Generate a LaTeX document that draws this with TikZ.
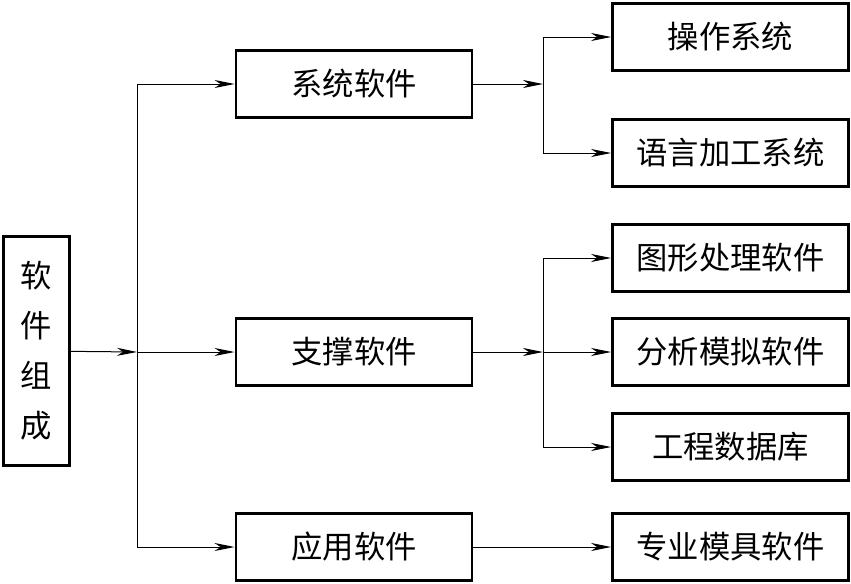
\documentclass[tikz,border=0pt]{standalone}
\usepackage{fontspec}
\newfontfamily\cjk{Noto Sans CJK SC}
\usetikzlibrary{arrows.meta}

\tikzset{
  softbox/.style={draw, line width=2.2pt, inner sep=0pt, minimum width=236*0.75pt, minimum height=67*0.75pt, font=\cjk\fontsize{23.5}{37.5}\selectfont},
  flow/.style={line width=0.75pt, -{Stealth[length=15pt, width=6pt, inset=4.5pt]}}
}

\begin{document}
\begin{tikzpicture}[x=0.75pt,y=0.75pt,yscale=-1,xscale=1]
\useasboundingbox (0,0) rectangle (851,583);

% Text Node
\node [softbox, minimum width=66*0.75pt, minimum height=229*0.75pt, align=center] (zucheng) at (36.5,351) {软\\件\\组\\成};
% Text Node
\node [softbox] (xitong) at (354,84) {系统软件};
% Text Node
\node [softbox] (zhicheng) at (354,352) {支撑软件};
% Text Node
\node [softbox] (yingyong) at (354,547) {应用软件};
% Text Node
\node [softbox] (caozuo) at (730.5,37) {操作系统};
% Text Node
\node [softbox] (yuyan) at (730.5,153) {语言加工系统};
% Text Node
\node [softbox] (tuxing) at (730.5,258) {图形处理软件};
% Text Node
\node [softbox] (fenxi) at (730.5,352) {分析模拟软件};
% Text Node
\node [softbox] (gongcheng) at (730.5,447) {工程数据库};
% Text Node
\node [softbox] (zhuanye) at (730.5,547) {专业模具软件};

% bus points
\coordinate (busa) at (137,352);
\coordinate (busb) at (543,84);
\coordinate (busc) at (543,352);

%Straight Lines
\draw [flow] (zucheng) -- (busa);
\draw [flow] (busa) |- (xitong);
\draw [flow] (busa) -- (zhicheng);
\draw [flow] (busa) |- (yingyong);
%Straight Lines
\draw [flow] (xitong) -- (busb);
\draw [flow] (busb) |- (caozuo);
\draw [flow] (busb) |- (yuyan);
%Straight Lines
\draw [flow] (zhicheng) -- (busc);
\draw [flow] (busc) |- (tuxing);
\draw [flow] (busc) -- (fenxi);
\draw [flow] (busc) |- (gongcheng);
%Straight Lines
\draw [flow] (yingyong) -- (zhuanye);

\end{tikzpicture}
\end{document}
